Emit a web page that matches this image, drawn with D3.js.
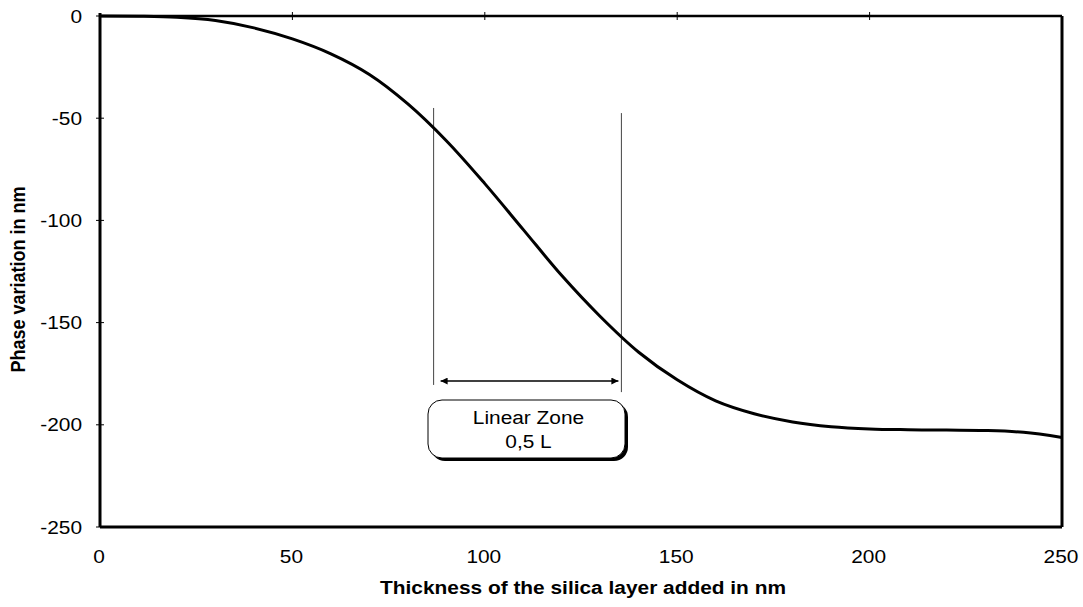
<!DOCTYPE html>
<html>
<head>
<meta charset="utf-8">
<script src="https://cdn.jsdelivr.net/npm/d3@7"></script>
<style>
body { margin: 0; background: #fff; }
text { font-family: "Liberation Sans", Arial, sans-serif; fill: #000; }
.tick-label { font-size: 18px; }
.axis-title { font-size: 18px; font-weight: bold; }
</style>
</head>
<body>
<svg id="plot"></svg>
<script>
var width = 1083;
var height = 607;

// silica thickness (nm) and phase variation (nm)
var thickness = [0, 10, 20, 30, 40, 50, 60, 70, 80, 90, 100, 110, 120, 130, 140, 150, 160, 170, 180, 190, 200, 210, 220, 230, 240, 250];
var phase = [0, -0.1, -0.6, -2.2, -5.8, -11.2, -18.5, -28.6, -43, -61, -82, -104.5, -127, -147, -164.5, -178, -188.3, -194.6, -198.6, -200.9, -202, -202.4, -202.6, -202.8, -203.7, -206.2];

var xTicks = [0, 50, 100, 150, 200, 250];
var yTicks = [0, -50, -100, -150, -200, -250];

// linear zone markers
var zoneBounds = [86.7, 135.5];
var zoneTop = [-45, -47.5];
var zoneBottom = [-180.5, -184];
var arrowY = -178.6;
var zoneLabel = ["Linear Zone", "0,5 L"];

var margin = {left: 100, right: 21, top: 16, bottom: 80};
var stretch = 1.16; // the scanned glyphs are wider than they are tall

var svg = d3.select("#plot")
    .attr("width", width)
    .attr("height", height);

var xScale = d3.scaleLinear()
    .domain([0, 250])
    .range([margin.left, width - margin.right]);
var yScale = d3.scaleLinear()
    .domain([-250, 0])
    .range([height - margin.bottom, margin.top]);

function place(x, y) {
    return "translate(" + x + "," + y + ") scale(" + stretch + ",1)";
}

var defs = svg.append("defs");
defs.append("marker")
    .attr("id", "head")
    .attr("viewBox", "0 0 10 10")
    .attr("refX", 10)
    .attr("refY", 5)
    .attr("markerWidth", 10)
    .attr("markerHeight", 7)
    .attr("markerUnits", "userSpaceOnUse")
    .attr("orient", "auto-start-reverse")
    .append("path")
    .attr("d", "M0,0 L10,5 L0,10 Z")
    .attr("fill", "#000");

// frame
var x0 = xScale(0), x1 = xScale(250), y0 = yScale(0), y1 = yScale(-250);
svg.append("line").attr("x1", x0).attr("x2", x1).attr("y1", y0).attr("y2", y0)
    .attr("stroke", "#000").attr("stroke-width", 2.5);
svg.append("line").attr("x1", x0).attr("x2", x1).attr("y1", y1).attr("y2", y1)
    .attr("stroke", "#000").attr("stroke-width", 3);
svg.append("line").attr("x1", x1).attr("x2", x1).attr("y1", y0).attr("y2", y1)
    .attr("stroke", "#000").attr("stroke-width", 3);
svg.append("line").attr("x1", x0).attr("x2", x0).attr("y1", y0 - 3).attr("y2", y1)
    .attr("stroke", "#000").attr("stroke-width", 3);

// y ticks crossing the left axis
svg.selectAll(".ytick")
    .data(yTicks)
    .enter()
    .append("line")
    .attr("class", "ytick")
    .attr("x1", x0 - 4).attr("x2", x0 + 4)
    .attr("y1", function (d) { return yScale(d); })
    .attr("y2", function (d) { return yScale(d); })
    .attr("stroke", "#000").attr("stroke-width", 1);
svg.selectAll(".ylabel")
    .data(yTicks)
    .enter()
    .append("text")
    .attr("class", "tick-label")
    .attr("text-anchor", "end")
    .attr("transform", function (d) { return place(x0 - 18, yScale(d) + 6.5); })
    .text(function (d) { return d; });

// x ticks sit on the top axis (y = 0), labels below the plot
svg.selectAll(".xtick")
    .data(xTicks.slice(1, -1))
    .enter()
    .append("line")
    .attr("class", "xtick")
    .attr("x1", function (d) { return xScale(d); })
    .attr("x2", function (d) { return xScale(d); })
    .attr("y1", y0 - 4).attr("y2", y0 + 4)
    .attr("stroke", "#000").attr("stroke-width", 1);
svg.selectAll(".xlabel")
    .data(xTicks)
    .enter()
    .append("text")
    .attr("class", "tick-label")
    .attr("text-anchor", "middle")
    .attr("transform", function (d) { return place(xScale(d) - 1, y1 + 36); })
    .text(function (d) { return d; });

// axis titles
svg.append("text")
    .attr("class", "axis-title")
    .attr("text-anchor", "middle")
    .attr("transform", place(583, 594))
    .text("Thickness of the silica layer added in nm");
svg.append("text")
    .attr("class", "axis-title")
    .attr("text-anchor", "middle")
    .attr("transform", "translate(25," + ((y0 + y1) / 2 + 8) + ") rotate(-90) scale(1," + stretch + ")")
    .text("Phase variation in nm");

// zone bounds
svg.selectAll(".bound")
    .data(zoneBounds)
    .enter()
    .append("line")
    .attr("class", "bound")
    .attr("x1", function (d) { return xScale(d); })
    .attr("x2", function (d) { return xScale(d); })
    .attr("y1", function (d, i) { return yScale(zoneTop[i]); })
    .attr("y2", function (d, i) { return yScale(zoneBottom[i]); })
    .attr("stroke", "#444").attr("stroke-width", 1);

// curve
var line = d3.line()
    .x(function (d, i) { return xScale(thickness[i]); })
    .y(function (d) { return yScale(d); })
    .curve(d3.curveCatmullRom);
svg.append("path")
    .attr("d", line(phase))
    .attr("fill", "none")
    .attr("stroke", "#000")
    .attr("stroke-width", 3);

// double arrow
svg.append("line")
    .attr("x1", xScale(zoneBounds[0]) + 7)
    .attr("x2", xScale(zoneBounds[1]) - 3)
    .attr("y1", yScale(arrowY))
    .attr("y2", yScale(arrowY))
    .attr("stroke", "#000")
    .attr("stroke-width", 1.5)
    .attr("marker-start", "url(#head)")
    .attr("marker-end", "url(#head)");

// label box with shadow
var bx = 428, by = 400, bw = 197, bh = 58;
svg.append("rect")
    .attr("x", bx + 3).attr("y", by + 3)
    .attr("width", bw).attr("height", bh)
    .attr("rx", 14)
    .attr("fill", "#000");
svg.append("rect")
    .attr("x", bx).attr("y", by)
    .attr("width", bw).attr("height", bh)
    .attr("rx", 14)
    .attr("fill", "#fff")
    .attr("stroke", "#000")
    .attr("stroke-width", 1);
svg.selectAll(".zone-label")
    .data(zoneLabel)
    .enter()
    .append("text")
    .attr("class", "tick-label")
    .attr("text-anchor", "middle")
    .attr("transform", function (d, i) { return place(bx + bw / 2 + 2, by + 24 + i * 24); })
    .text(function (d) { return d; });
</script>
</body>
</html>
